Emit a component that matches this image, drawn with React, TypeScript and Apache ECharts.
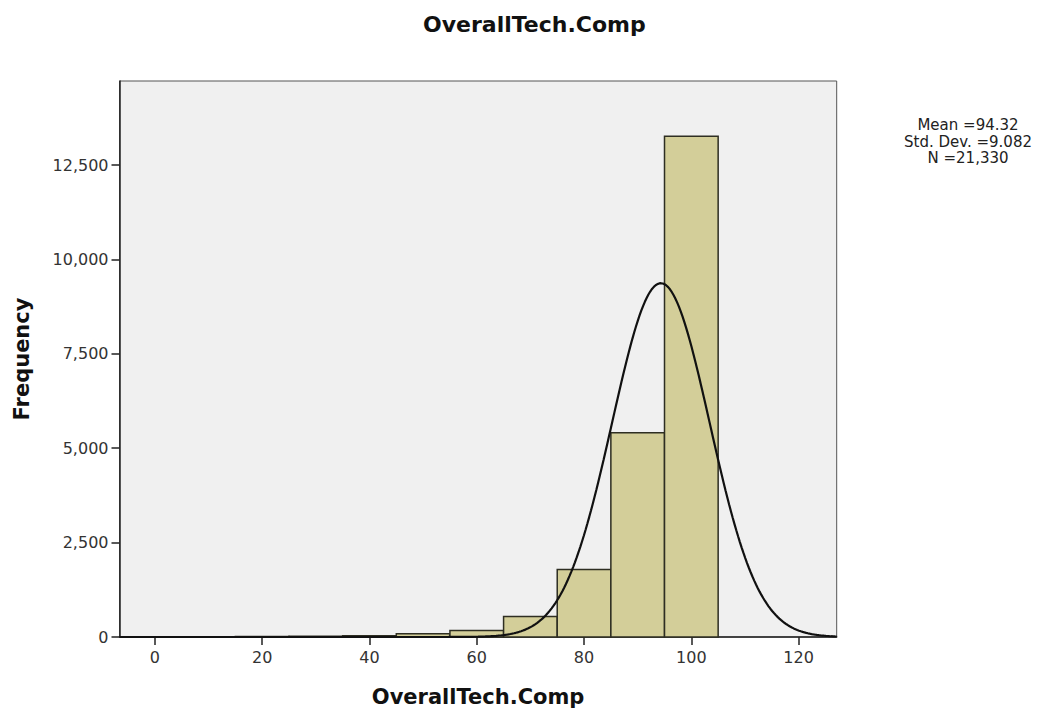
import React, { useEffect, useRef } from "react";
import * as echarts from "echarts";

// ---- data ----
const BIN_EDGES = [-5, 5, 15, 25, 35, 45, 55, 65, 75, 85, 95, 105];
const BIN_COUNTS = [4, 6, 10, 20, 35, 85, 170, 545, 1785, 5410, 13260];
const X_TICKS = [0, 20, 40, 60, 80, 100, 120];
const Y_TICKS = [0, 2500, 5000, 7500, 10000, 12500];
const MEAN = 94.32;
const SD = 9.082;
const N = 21330;
const BIN_WIDTH = 10;
const X_MIN = -6.6;
const X_MAX = 127.1;
const Y_MAX = 14725;
const STATS_LINES = ["Mean =94.32", "Std. Dev. =9.082", "N =21,330"];
const TITLE = "OverallTech.Comp";
const X_NAME = "OverallTech.Comp";
const Y_NAME = "Frequency";

const FONT = "DejaVu Sans";

function buildCurve(): number[][] {
  // normal curve implied by the reported statistics
  const pts: number[][] = [];
  const steps = 400;
  for (let i = 0; i <= steps; i++) {
    const x = X_MIN + ((X_MAX - X_MIN) * i) / steps;
    const z = (x - MEAN) / SD;
    const y = (N * BIN_WIDTH) / (SD * Math.sqrt(2 * Math.PI)) * Math.exp(-0.5 * z * z);
    pts.push([x, y]);
  }
  return pts;
}

export default function App() {
  const ref = useRef<HTMLDivElement>(null);
  useEffect(() => {
    if (!ref.current) return;
    const chart = echarts.init(ref.current, null, { renderer: "svg" });
    const barData = BIN_COUNTS.map((c, i) => [BIN_EDGES[i], BIN_EDGES[i + 1], c]);
    chart.setOption({
      animation: false,
      backgroundColor: "#ffffff",
      title: {
        text: TITLE,
        left: 418,
        top: 8,
        textStyle: { fontFamily: FONT, fontSize: 22, fontWeight: "bold", color: "#111" },
      },
      grid: {
        left: 119.5,
        right: 213.3,
        top: 81,
        bottom: 80,
        show: true,
        backgroundColor: "#f0f0f0",
        borderColor: "#555",
        borderWidth: 1,
      },
      xAxis: {
        type: "value",
        min: X_MIN,
        max: X_MAX,
        name: X_NAME,
        nameLocation: "middle",
        nameGap: 49,
        nameTextStyle: { fontFamily: FONT, fontSize: 21, fontWeight: "bold", color: "#111" },
        splitLine: { show: false },
        axisLine: { onZero: false, lineStyle: { color: "#222", width: 1.5 } },
        axisTick: { show: true, length: 8, customValues: X_TICKS, lineStyle: { color: "#222", width: 1.5 } },
        axisLabel: {
          customValues: X_TICKS,
          margin: 12,
          fontFamily: FONT,
          fontSize: 16,
          color: "#333",
        },
      },
      yAxis: {
        type: "value",
        min: 0,
        max: Y_MAX,
        name: Y_NAME,
        nameLocation: "middle",
        nameGap: 87,
        nameTextStyle: { fontFamily: FONT, fontSize: 21, fontWeight: "bold", color: "#111" },
        splitLine: { show: false },
        axisLine: { show: true, onZero: false, lineStyle: { color: "#222", width: 1.5 } },
        axisTick: { show: true, length: 8, customValues: Y_TICKS, lineStyle: { color: "#222", width: 1.5 } },
        axisLabel: {
          customValues: Y_TICKS,
          margin: 11,
          fontFamily: FONT,
          fontSize: 16,
          color: "#333",
          formatter: (v: number) => v.toLocaleString("en-US"),
        },
      },
      graphic: STATS_LINES.map((t, i) => ({
        type: "text",
        x: 968,
        y: 125 + i * 16.5,
        style: {
          text: t,
          fontFamily: FONT,
          fontSize: 15,
          fill: "#222",
          textAlign: "center",
          textVerticalAlign: "middle",
        },
      })),
      series: [
        {
          type: "custom",
          data: barData,
          encode: { x: [0, 1], y: 2 },
          renderItem: (params: any, api: any) => {
            const lo = api.value(0);
            const hi = api.value(1);
            const c = api.value(2);
            const p0 = api.coord([lo, c]);
            const p1 = api.coord([hi, 0]);
            return {
              type: "rect",
              shape: { x: p0[0], y: p0[1], width: p1[0] - p0[0], height: p1[1] - p0[1] },
              style: { fill: "#d3ce99", stroke: "#2e2e22", lineWidth: 1.5 },
            };
          },
          z: 2,
        },
        {
          type: "line",
          data: buildCurve(),
          showSymbol: false,
          smooth: false,
          lineStyle: { color: "#111", width: 2.2 },
          z: 3,
        },
      ],
    });
    return () => chart.dispose();
  }, []);
  return (
    <div
      ref={ref}
      style={{ position: "fixed", left: 0, top: 0, width: 1050, height: 717 }}
    />
  );
}
